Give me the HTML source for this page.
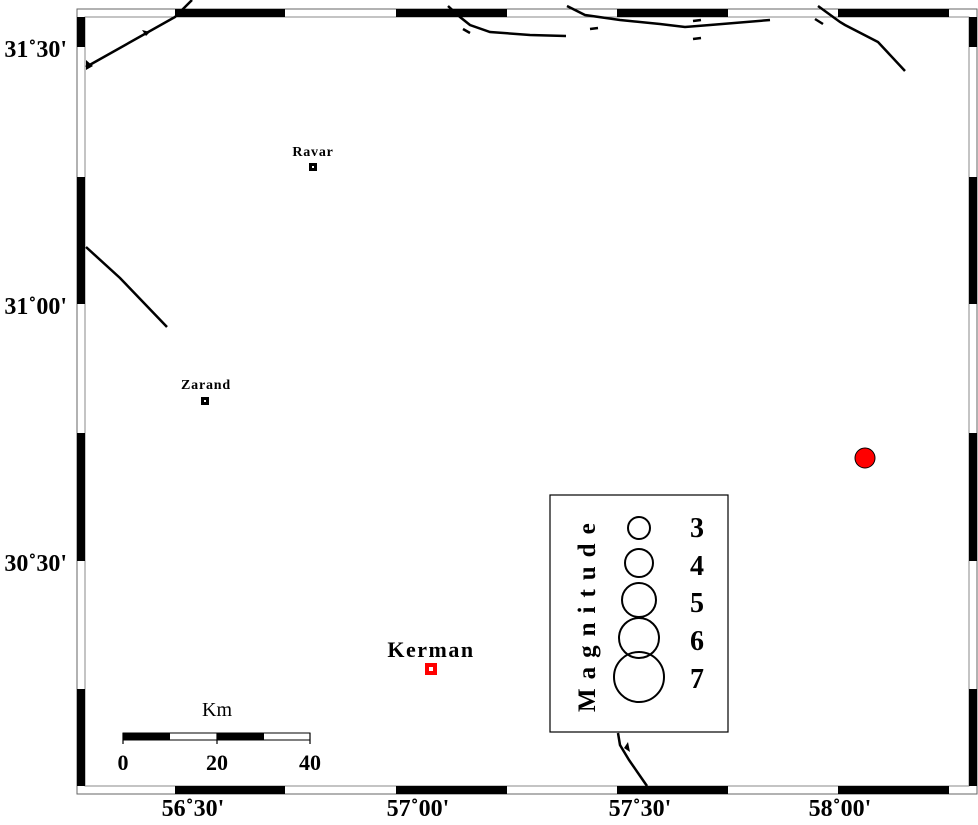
<!DOCTYPE html>
<html><head><style>body{margin:0;background:#fff}svg{display:block}text{font-family:"Liberation Serif",serif;font-weight:bold}</style></head><body>
<svg width="978" height="825" viewBox="0 0 978 825" xmlns="http://www.w3.org/2000/svg">
<rect x="0" y="0" width="978" height="825" fill="#fff"/>
<rect x="77" y="9" width="900" height="785" fill="none" stroke="#666" stroke-width="1"/>
<rect x="85" y="17" width="884" height="769" fill="none" stroke="#888" stroke-width="1"/>
<g fill="#000">
<rect x="175" y="9" width="110" height="8"/><rect x="396" y="9" width="111" height="8"/><rect x="617" y="9" width="111" height="8"/><rect x="838" y="9" width="111" height="8"/>
<rect x="175" y="786" width="110" height="8"/><rect x="396" y="786" width="111" height="8"/><rect x="617" y="786" width="111" height="8"/><rect x="838" y="786" width="111" height="8"/>
<rect x="77" y="17" width="8" height="30"/><rect x="77" y="177" width="8" height="127"/><rect x="77" y="433" width="8" height="128"/><rect x="77" y="689" width="8" height="97"/>
<rect x="969" y="17" width="8" height="30"/><rect x="969" y="177" width="8" height="127"/><rect x="969" y="433" width="8" height="128"/><rect x="969" y="689" width="8" height="97"/>
</g>
<g fill="none" stroke="#000" stroke-width="2.5">
<polyline points="86,67 175,17 192,0"/>
<polyline points="86,247 120,278 167,327"/>
<polyline points="448,6 460,17 470,25 490,32 530,35 566,36"/>
<polyline points="567,6 585,15 620,20 660,24 685,27 710,25 770,20"/>
<polyline points="818,6 840,22 845,25 878,42 905,71"/>
<polyline points="618,733 620,745 629,760 647,786"/>
<line x1="463" y1="29" x2="470" y2="33"/><line x1="590" y1="29" x2="598" y2="28"/>
<line x1="693" y1="21" x2="701" y2="20"/><line x1="693" y1="39" x2="701" y2="38"/>
<line x1="815" y1="19" x2="823" y2="24"/>
</g>
<g fill="#000"><polygon points="86,60 86,70 93,66"/><polygon points="142,30 146,36 150,32"/><polygon points="624,748 630,752 628,742"/></g>
<g fill="#000" text-anchor="middle">
<text x="313" y="156" font-size="14" letter-spacing="0.8">Ravar</text><rect x="309" y="163" width="8" height="8"/><rect x="312" y="166" width="2" height="2" fill="#fff"/>
<text x="206" y="389" font-size="14" letter-spacing="0.8">Zarand</text><rect x="201" y="397" width="8" height="8"/><rect x="204" y="400" width="2" height="2" fill="#fff"/>
<text x="431" y="657" font-size="22" letter-spacing="1.5">Kerman</text>
</g>
<rect x="425" y="663" width="12" height="12" fill="#f00"/><rect x="429" y="667" width="4" height="4" fill="#fff"/>
<circle cx="865" cy="458" r="10" fill="#f00" stroke="#000" stroke-width="1"/>
<rect x="550" y="495" width="178" height="237" fill="#fff" stroke="#000" stroke-width="1.2"/>
<g fill="none" stroke="#000" stroke-width="2">
<circle cx="639" cy="528" r="11"/><circle cx="639" cy="563" r="14"/><circle cx="639" cy="600" r="17"/><circle cx="639" cy="638" r="20"/><circle cx="639" cy="677" r="25"/>
</g>
<g font-size="28" fill="#000">
<text x="690" y="537">3</text><text x="690" y="575">4</text><text x="690" y="612">5</text><text x="690" y="650">6</text><text x="690" y="688">7</text>
</g>
<text transform="translate(595,712) rotate(-90)" font-size="25" letter-spacing="9" fill="#000">Magnitude</text>
<text x="217" y="716" font-size="20" text-anchor="middle" style="font-weight:normal">Km</text>
<rect x="123" y="733" width="187" height="7" fill="#fff" stroke="#000" stroke-width="1"/>
<rect x="123" y="733" width="47" height="7" fill="#000"/><rect x="217" y="733" width="47" height="7" fill="#000"/>
<g stroke="#000" stroke-width="1.2"><line x1="123" y1="733" x2="123" y2="744"/><line x1="217" y1="733" x2="217" y2="744"/><line x1="310" y1="733" x2="310" y2="744"/></g>
<g font-size="22" text-anchor="middle" fill="#000"><text x="123" y="770">0</text><text x="217" y="770">20</text><text x="310" y="770">40</text></g>
<g font-size="24" fill="#000" text-anchor="end"><text x="67" y="57">31˚30'</text><text x="67" y="314">31˚00'</text><text x="67" y="571">30˚30'</text></g>
<g font-size="24" fill="#000" text-anchor="middle"><text x="193" y="816">56˚30'</text><text x="418" y="816">57˚00'</text><text x="640" y="816">57˚30'</text><text x="840" y="816">58˚00'</text></g>
</svg>
</body></html>
